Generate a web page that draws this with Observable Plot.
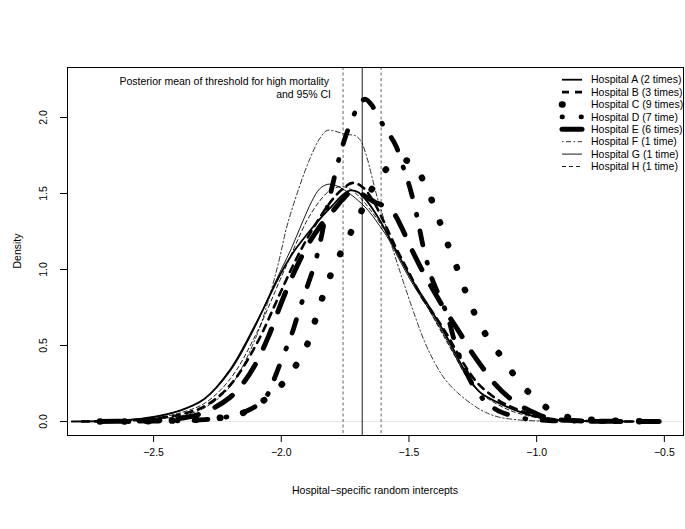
<!DOCTYPE html>
<html><head><meta charset="utf-8">
<script src="https://cdn.jsdelivr.net/npm/d3@7"></script>
<script src="https://cdn.jsdelivr.net/npm/@observablehq/plot@0.6"></script>
<style>
body{margin:0;background:#fff;}
#chart svg{display:block;font-family:"Liberation Sans",Arial,Helvetica,sans-serif;}
</style></head><body><div id="chart"></div>
<script>
// ---- data ----
const hospitals = ["Hospital A (2 times)","Hospital B (3 times)","Hospital C (9 times)","Hospital D (7 time)",
                   "Hospital E (6 times)","Hospital F (1 time)","Hospital G (1 time)","Hospital H (1 time)"];

const hospA = [[-2.82,0],[-2.7,0.003],[-2.6,0.01],[-2.5,0.03],[-2.4,0.07],[-2.3,0.15],[-2.2,0.34],[-2.1,0.64],[-2.0,0.98],[-1.95,1.12],[-1.9,1.23],[-1.85,1.33],[-1.8,1.42],[-1.76,1.49],[-1.73,1.52],[-1.70,1.51],[-1.66,1.44],[-1.62,1.34],[-1.58,1.22],[-1.53,1.06],[-1.48,0.91],[-1.43,0.78],[-1.38,0.64],[-1.34,0.52],[-1.3,0.39],[-1.26,0.27],[-1.22,0.19],[-1.17,0.14],[-1.12,0.10],[-1.06,0.06],[-1.0,0.03],[-0.93,0.012],[-0.85,0.004],[-0.75,0.001],[-0.62,0]];
const hospB = [[-2.78,0],[-2.7,0.002],[-2.6,0.007],[-2.5,0.02],[-2.4,0.045],[-2.3,0.10],[-2.2,0.24],[-2.1,0.50],[-2.0,0.86],[-1.95,1.04],[-1.9,1.20],[-1.85,1.34],[-1.8,1.46],[-1.76,1.53],[-1.72,1.57],[-1.68,1.54],[-1.64,1.45],[-1.6,1.32],[-1.55,1.14],[-1.5,0.98],[-1.45,0.82],[-1.4,0.70],[-1.35,0.57],[-1.31,0.45],[-1.27,0.34],[-1.23,0.25],[-1.19,0.19],[-1.14,0.13],[-1.09,0.09],[-1.03,0.05],[-0.97,0.025],[-0.9,0.01],[-0.8,0.003],[-0.7,0.001],[-0.6,0]];
const hospC = [[-2.71,0],[-2.6,0.001],[-2.5,0.003],[-2.4,0.008],[-2.3,0.015],[-2.2,0.035],[-2.13,0.07],[-2.06,0.15],[-2.0,0.24],[-1.95,0.35],[-1.9,0.50],[-1.87,0.65],[-1.84,0.81],[-1.81,0.95],[-1.77,1.10],[-1.73,1.235],[-1.69,1.37],[-1.65,1.515],[-1.6,1.64],[-1.56,1.70],[-1.52,1.72],[-1.48,1.69],[-1.44,1.57],[-1.40,1.41],[-1.37,1.27],[-1.34,1.13],[-1.305,0.98],[-1.275,0.84],[-1.24,0.70],[-1.195,0.56],[-1.14,0.43],[-1.09,0.31],[-1.03,0.19],[-0.96,0.09],[-0.88,0.03],[-0.79,0.012],[-0.69,0.005],[-0.6,0.002],[-0.51,0]];
const hospD = [[-2.6,0],[-2.5,0.002],[-2.4,0.005],[-2.3,0.012],[-2.2,0.035],[-2.15,0.06],[-2.1,0.10],[-2.06,0.16],[-2.03,0.27],[-2.0,0.40],[-1.96,0.57],[-1.93,0.73],[-1.9,0.88],[-1.87,1.03],[-1.845,1.2],[-1.825,1.37],[-1.80,1.55],[-1.78,1.69],[-1.755,1.84],[-1.72,2.0],[-1.69,2.1],[-1.67,2.12],[-1.645,2.08],[-1.62,2.0],[-1.585,1.91],[-1.55,1.81],[-1.53,1.71],[-1.5,1.56],[-1.47,1.36],[-1.44,1.12],[-1.41,0.94],[-1.38,0.82],[-1.35,0.70],[-1.32,0.52],[-1.29,0.38],[-1.25,0.24],[-1.2,0.13],[-1.15,0.07],[-1.1,0.04],[-1.05,0.02],[-0.95,0.006],[-0.85,0.002],[-0.7,0]];
const hospE = [[-2.71,0],[-2.6,0.002],[-2.5,0.006],[-2.4,0.02],[-2.3,0.06],[-2.2,0.16],[-2.15,0.25],[-2.1,0.38],[-2.05,0.56],[-2.0,0.78],[-1.95,0.98],[-1.9,1.15],[-1.85,1.28],[-1.8,1.38],[-1.76,1.46],[-1.72,1.52],[-1.69,1.50],[-1.66,1.47],[-1.63,1.44],[-1.6,1.42],[-1.56,1.37],[-1.53,1.28],[-1.5,1.17],[-1.45,1.0],[-1.4,0.85],[-1.35,0.71],[-1.3,0.58],[-1.26,0.47],[-1.21,0.35],[-1.17,0.26],[-1.11,0.16],[-1.06,0.10],[-1.0,0.05],[-0.95,0.02],[-0.88,0.008],[-0.8,0.003],[-0.7,0.001],[-0.52,0]];
const hospF = [[-2.82,0],[-2.7,0.002],[-2.6,0.006],[-2.5,0.015],[-2.4,0.035],[-2.3,0.09],[-2.2,0.23],[-2.1,0.55],[-2.05,0.80],[-2.01,1.05],[-1.98,1.27],[-1.94,1.49],[-1.89,1.72],[-1.85,1.86],[-1.82,1.915],[-1.79,1.91],[-1.75,1.89],[-1.71,1.88],[-1.69,1.85],[-1.665,1.74],[-1.645,1.61],[-1.625,1.48],[-1.605,1.37],[-1.57,1.17],[-1.53,0.96],[-1.49,0.76],[-1.44,0.53],[-1.40,0.39],[-1.36,0.28],[-1.31,0.19],[-1.25,0.11],[-1.2,0.06],[-1.15,0.03],[-1.08,0.012],[-1.0,0.004],[-0.9,0]];
const hospG = [[-2.82,0],[-2.7,0.003],[-2.6,0.012],[-2.5,0.03],[-2.4,0.07],[-2.3,0.15],[-2.2,0.33],[-2.1,0.63],[-2.05,0.82],[-2.0,1.0],[-1.96,1.14],[-1.92,1.30],[-1.88,1.45],[-1.85,1.53],[-1.82,1.56],[-1.79,1.555],[-1.75,1.52],[-1.71,1.47],[-1.66,1.39],[-1.62,1.30],[-1.58,1.20],[-1.53,1.04],[-1.48,0.89],[-1.43,0.76],[-1.38,0.62],[-1.34,0.50],[-1.3,0.37],[-1.26,0.26],[-1.22,0.19],[-1.17,0.14],[-1.12,0.10],[-1.06,0.06],[-1.0,0.03],[-0.93,0.012],[-0.85,0.004],[-0.75,0.001],[-0.65,0]];
const hospH = [[-2.82,0],[-2.7,0.002],[-2.6,0.008],[-2.5,0.022],[-2.4,0.055],[-2.3,0.12],[-2.2,0.28],[-2.1,0.57],[-2.0,0.95],[-1.95,1.14],[-1.9,1.32],[-1.85,1.45],[-1.81,1.52],[-1.77,1.545],[-1.73,1.53],[-1.69,1.47],[-1.65,1.39],[-1.6,1.27],[-1.55,1.12],[-1.5,0.97],[-1.45,0.82],[-1.4,0.67],[-1.36,0.55],[-1.32,0.43],[-1.28,0.31],[-1.24,0.22],[-1.2,0.16],[-1.15,0.11],[-1.1,0.07],[-1.04,0.04],[-0.98,0.02],[-0.9,0.007],[-0.8,0.002],[-0.7,0]];

const thresholdMean = -1.683;
const thresholdCI = [-1.758, -1.609];
const xTicks = [-2.5, -2.0, -1.5, -1.0, -0.5];
const yTicks = [0, 0.5, 1.0, 1.5, 2.0];

// ---- styles ----
const curves = [hospA, hospB, hospC, hospD, hospE, hospF, hospG, hospH];
const styles = [
  {strokeWidth: 1.8},
  {strokeWidth: 2.6, strokeDasharray: "7,6"},
  {strokeWidth: 6.5, strokeDasharray: "0.5,23.5", strokeLinecap: "round"},
  {strokeWidth: 4.8, strokeDasharray: "1,16,14,18", strokeLinecap: "round"},
  {strokeWidth: 5, strokeDasharray: "21,18", strokeLinecap: "round"},
  {strokeWidth: 0.8, strokeDasharray: "1.5,2.5,5,2.5"},
  {strokeWidth: 0.9},
  {strokeWidth: 0.9, strokeDasharray: "4,3"}
];
// legend keys show only the start of each pattern (as in the reference)
const legendDash = [null, "7,6", "0.5,40", "0.5,18.5,0.5,40", null, "1.5,2.5,5,2.5", null, "4,3"];

const fmt = d3.format(".1f");
const lineMarks = curves.map((c, i) => Plot.line(c.map(([x, y]) => ({x, y, h: hospitals[i]})), {
  x: "x", y: "y", stroke: "#000", curve: "catmull-rom", strokeLinejoin: "round", ...styles[i]
}));

const chart = Plot.plot({
  width: 685, height: 529,
  marginLeft: 67, marginRight: 2, marginTop: 67, marginBottom: 94,
  style: {fontSize: "10.5px", fontFamily: "'Liberation Sans', Arial, Helvetica, sans-serif", background: "#fff"},
  x: {domain: [-2.837, -0.425]},
  y: {domain: [-0.092, 2.329]},
  marks: [
    Plot.ruleY([0], {stroke: "#e6e6e6", strokeWidth: 1}),
    Plot.ruleX(thresholdCI, {stroke: "#666", strokeWidth: 1, strokeDasharray: "3,2.5"}),
    Plot.ruleX([thresholdMean], {stroke: "#000", strokeWidth: 0.9}),
    ...lineMarks,
    Plot.frame({stroke: "#000", strokeWidth: 1}),
    Plot.axisX({ticks: xTicks, tickSize: 7, tickPadding: 6, tickFormat: fmt, label: null}),
    Plot.axisY({ticks: yTicks, tickSize: 7, tickFormat: () => "", label: null}),
    Plot.text(yTicks, {y: d => d, text: d => fmt(d), frameAnchor: "left", dx: -24, rotate: -90, textAnchor: "middle"})
  ]
});
document.getElementById("chart").appendChild(chart);

// ---- annotations, axis titles, legend ----
const svg = d3.select(chart);
const ff = "'Liberation Sans', Arial, Helvetica, sans-serif";
svg.append("text").attr("x", 375).attr("y", 494).attr("text-anchor", "middle")
  .attr("font-size", 10.5).attr("font-family", ff).text("Hospital\u2212specific random intercepts");
svg.append("text").attr("transform", "translate(21,251) rotate(-90)").attr("text-anchor", "middle")
  .attr("font-size", 10.5).attr("font-family", ff).text("Density");
const ann = svg.append("text").attr("text-anchor", "end").attr("font-size", 10.5).attr("font-family", ff);
ann.append("tspan").attr("x", 329).attr("y", 85).text("Posterior mean of threshold for high mortality");
ann.append("tspan").attr("x", 331).attr("y", 98).text("and 95% CI");

const lg = svg.append("g");
hospitals.forEach((name, i) => {
  const y = 79.7 + i * 12.4;
  const s = styles[i];
  lg.append("line").attr("x1", 562).attr("x2", 582).attr("y1", y).attr("y2", y)
    .attr("stroke", "#000").attr("stroke-width", s.strokeWidth)
    .attr("stroke-dasharray", legendDash[i])
    .attr("stroke-linecap", s.strokeLinecap || "butt");
  lg.append("text").attr("x", 591).attr("y", y + 3.7).attr("text-anchor", "start")
    .attr("font-size", 10.5).attr("font-family", ff).text(name);
});
</script></body></html>
